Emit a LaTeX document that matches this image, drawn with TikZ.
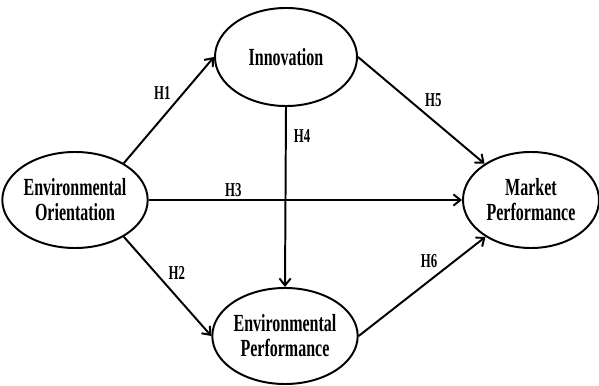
\documentclass[tikz,border=0pt]{standalone}
\usepackage{amsmath,amsfonts,amssymb}
\usepackage{fontspec}
\setmainfont{Liberation Serif}[FakeStretch=0.65]
\usepackage{tikz}
\usetikzlibrary{arrows.meta,shapes.geometric}

\begin{document}
\begin{tikzpicture}[x=0.025cm, y=-0.025cm, auto,
		var_style/.style={ellipse,draw=black,line width=1.4pt,fill=white,inner sep=0pt,
			minimum width=3.5cm,minimum height=2.4cm,align=center,
			font=\fontsize{17.5}{17.7}\selectfont\bfseries},
		edge_style/.style={draw=black,line width=1.4pt,-{Straight Barb[length=5pt,width=8pt]}},
		hyp_style/.style={font=\fontsize{14}{14}\selectfont\bfseries,inner sep=2pt}]
		
		\useasboundingbox (0,0) rectangle (599,386);
		
		\node[var_style] (n0) at (75,200)  {Environmental\\Orientation};
		\node[var_style,minimum width=3.55cm,minimum height=2.45cm] (n1) at (286,57)  {Innovation};
		\node[var_style] (n2) at (285,336)  {Environmental\\Performance};
		\node[var_style,minimum width=3.4cm] (n3) at (531,200)  {Market\\Performance};
		
		\draw  (n0.37) edge[edge_style] node[hyp_style,pos=0.56]{H1} (n1.west);
		\draw  (n0.-37) edge[edge_style] node[hyp_style,pos=0.47]{H2} (n2.west);
		\draw  (n0.east) edge[edge_style] node[hyp_style,pos=0.27]{H3} (n3.west);
		\draw  (n1.south) edge[edge_style] node[hyp_style,pos=0.16,inner sep=5pt]{H4} (n2.north);
		\draw  (n1.east) edge[edge_style] node[hyp_style,pos=0.5]{H5} (n3.142);
		\draw  (n2.east) edge[edge_style] node[hyp_style,pos=0.65]{H6} (n3.219);
		
\end{tikzpicture}
\end{document}
